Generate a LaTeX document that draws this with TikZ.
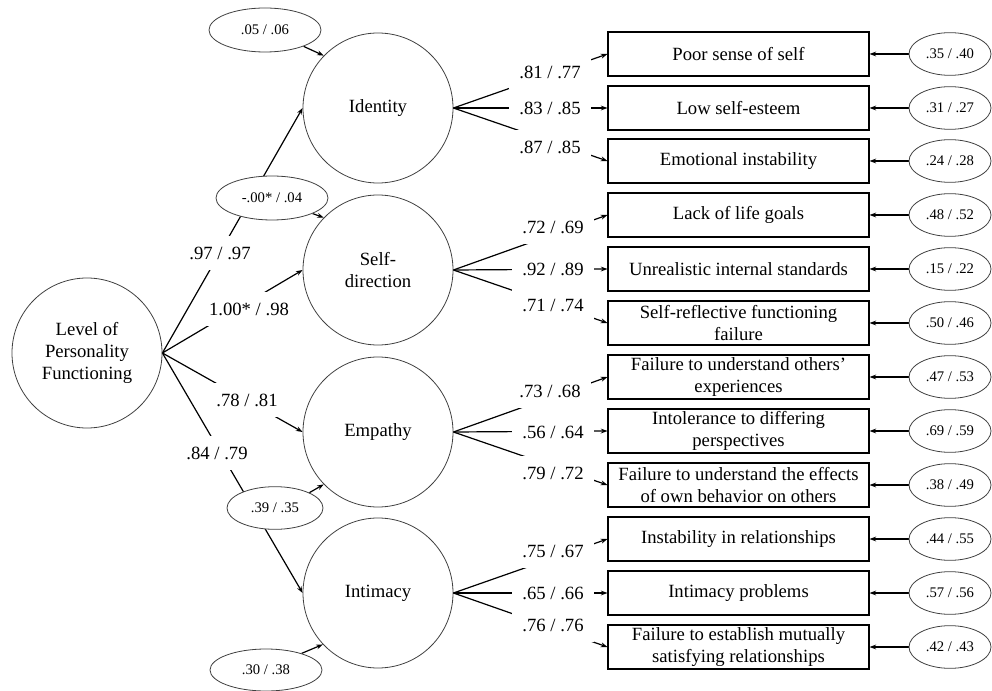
\documentclass[tikz,border=0pt]{standalone}
\usepackage{fontspec}
\setmainfont{Liberation Serif}
\usetikzlibrary{shapes.geometric,arrows.meta}
\pgfdeclarelayer{bg}
\pgfsetlayers{bg,main}
\begin{document}
\begin{tikzpicture}[x=0.75pt,y=-0.75pt,
  lat/.style={circle,draw=black!75,line width=0.6pt,minimum size=112.5pt,inner sep=0pt,align=center,font=\fontsize{14}{16.5}\selectfont},
  ind/.style={rectangle,draw,line width=0.8pt,minimum width=195.75pt,minimum height=33pt,inner sep=0pt,align=center,font=\fontsize{14}{16.5}\selectfont},
  err/.style={ellipse,draw=black!75,line width=0.6pt,fill=white,minimum width=84pt,minimum height=33pt,inner sep=0pt,font=\fontsize{11}{13}\selectfont},
  rerr/.style={ellipse,draw=black!75,line width=0.6pt,minimum width=61.5pt,minimum height=32pt,inner sep=0pt,font=\fontsize{11}{13}\selectfont},
  lbl/.style={fill=white,inner xsep=8pt,inner ysep=8pt,font=\fontsize{14}{16.5}\selectfont},
  con/.style={line width=0.9pt,-{Stealth[length=5pt,width=3.6pt]}},
  ]
\useasboundingbox (0,0) rectangle (992,691);

% latent variables
\node[lat] (lpf) at (87,353) {Level of\\Personality\\Functioning};
\node[lat] (id) at (378,108) {Identity};
\node[lat] (sd) at (378,270) {Self-\\direction};
\node[lat] (em) at (378,432) {Empathy};
\node[lat] (inti) at (378,593) {Intimacy};

% indicators
\node[ind] (b1) at (738.5,54) {Poor sense of self};
\node[ind] (b2) at (738.5,108) {Low self-esteem};
\node[ind] (b3) at (738.5,161) {Emotional instability};
\node[ind] (b4) at (738.5,215) {Lack of life goals};
\node[ind] (b5) at (738.5,269) {Unrealistic internal standards};
\node[ind] (b6) at (738.5,323) {Self-reflective functioning\\failure};
\node[ind] (b7) at (738.5,377) {Failure to understand others’\\experiences};
\node[ind] (b8) at (738.5,431) {Intolerance to differing\\perspectives};
\node[ind] (b9) at (738.5,485) {Failure to understand the effects\\of own behavior on others};
\node[ind] (b10) at (738.5,539) {Instability in relationships};
\node[ind] (b11) at (738.5,593) {Intimacy problems};
\node[ind] (b12) at (738.5,647) {Failure to establish mutually\\satisfying relationships};

% residuals of indicators
\node[rerr] (r1) at (950,54) {.35 / .40};
\node[rerr] (r2) at (950,108) {.31 / .27};
\node[rerr] (r3) at (950,161) {.24 / .28};
\node[rerr] (r4) at (950,215) {.48 / .52};
\node[rerr] (r5) at (950,269) {.15 / .22};
\node[rerr] (r6) at (950,323) {.50 / .46};
\node[rerr] (r7) at (950,377) {.47 / .53};
\node[rerr] (r8) at (950,431) {.69 / .59};
\node[rerr] (r9) at (950,485) {.38 / .49};
\node[rerr] (r10) at (950,539) {.44 / .55};
\node[rerr] (r11) at (950,593) {.57 / .56};
\node[rerr] (r12) at (950,647) {.42 / .43};

% residuals of latent factors
\node[err] (e1) at (265,30) {.05 / .06};
\node[err] (e2) at (272,198) {-.00* / .04};
\node[err,minimum width=72pt,minimum height=32pt] (e3) at (275,508) {.39 / .35};
\node[err,minimum height=31.5pt] (e4) at (266,670) {.30 / .38};

\begin{pgfonlayer}{bg}
  \draw[con] (lpf.east) -- (id.west);
  \draw[con] (lpf.east) -- (sd.west);
  \draw[con] (lpf.east) -- (em.west);
  \draw[con] (lpf.east) -- (inti.west);
  \draw[con] (e1.-23) -- (id.136);
  \draw[con] (e2.-21) -- (sd.136);
  \draw[con] (e3.24) -- (em.224);
  \draw[con] (e4.25) -- (inti.223);
  \foreach \b in {1,2,3} \draw[con] (id.east) -- (b\b.west);
  \foreach \b in {4,5,6} \draw[con] (sd.east) -- (b\b.west);
  \foreach \b in {7,8,9} \draw[con] (em.east) -- (b\b.west);
  \foreach \b in {10,11,12} \draw[con] (inti.east) -- (b\b.west);
  \foreach \b in {1,...,12} \draw[con] (r\b.west) -- (b\b.east);
\end{pgfonlayer}

% path labels
\node[lbl] (l1) at (220,253) {.97 / .97};
\node[lbl] (l2) at (249,309) {1.00* / .98};
\node[lbl] (l3) at (247,400) {.78 / .81};
\node[lbl] (l4) at (217,453) {.84 / .79};

\node[lbl] (m1) at (550,72) {.81 / .77};
\node[lbl] (m2) at (550,108) {.83 / .85};
\node[lbl] (m3) at (550,147) {.87 / .85};
\node[lbl] (m4) at (553,227) {.72 / .69};
\node[lbl] (m5) at (553,269) {.92 / .89};
\node[lbl] (m6) at (553,305) {.71 / .74};
\node[lbl] (m7) at (550,391) {.73 / .68};
\node[lbl] (m8) at (553,432) {.56 / .64};
\node[lbl] (m9) at (553,473) {.79 / .72};
\node[lbl] (m10) at (553,551) {.75 / .67};
\node[lbl] (m11) at (553,593) {.65 / .66};
\node[lbl] (m12) at (553,625) {.76 / .76};
\end{tikzpicture}
\end{document}
